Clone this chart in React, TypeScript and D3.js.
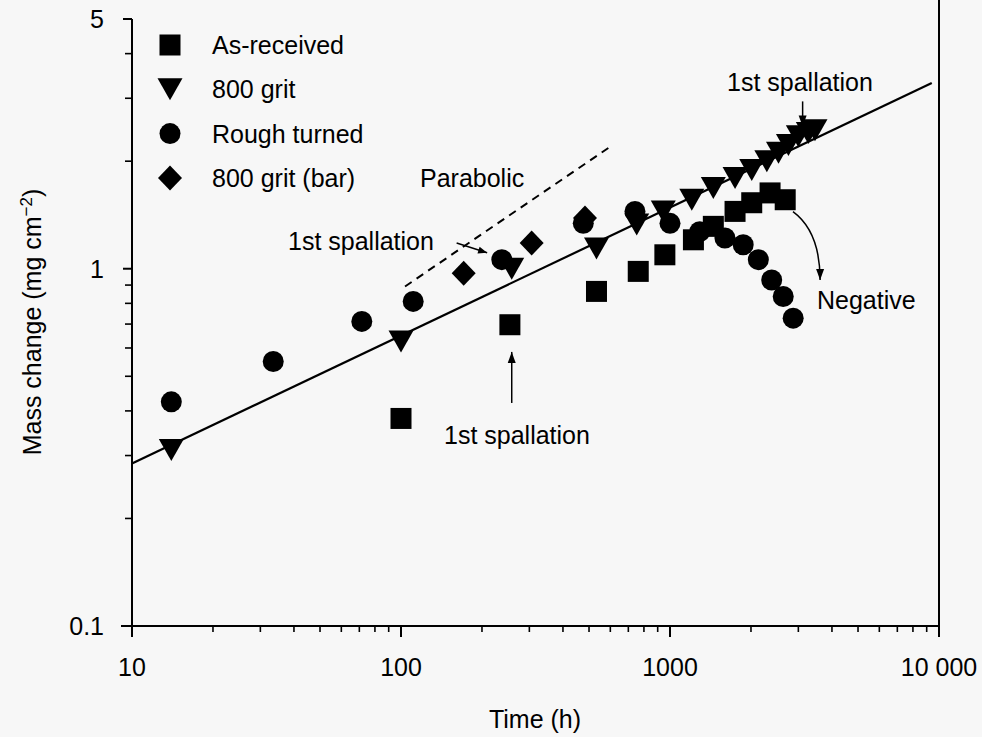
import React from "react";
import * as d3 from "d3";

// ---- Data (time in h, mass change in mg cm^-2) ----
const asReceivedT = [100, 254, 533, 762, 957, 1222, 1449, 1745, 2013, 2355, 2681];
const asReceivedV = [0.381, 0.697, 0.864, 0.983, 1.094, 1.205, 1.314, 1.447, 1.53, 1.63, 1.56];

const grit800T = [14, 100, 258, 533, 752, 944, 1205, 1449, 1745, 2013, 2291, 2531, 2756, 3000, 3267, 3459];
const grit800V = [0.311, 0.626, 1.0, 1.14, 1.33, 1.447, 1.56, 1.683, 1.795, 1.89, 2.0, 2.11, 2.22, 2.35, 2.4, 2.44];

const roughT = [14, 33.5, 71.5, 111, 237, 476, 741, 1000, 1290, 1600, 1871, 2130, 2388, 2636, 2870];
const roughV = [0.424, 0.55, 0.712, 0.81, 1.06, 1.34, 1.447, 1.34, 1.27, 1.219, 1.167, 1.06, 0.93, 0.836, 0.727];

const barT = [171, 306, 483];
const barV = [0.972, 1.18, 1.387];

const fitT = [10, 9400];
const fitV = [0.285, 3.31];

const parabolicT = [103.5, 615];
const parabolicV = [0.892, 2.225];

const xMajorTicks = [10, 100, 1000, 10000];
const xMajorLabels = ["10", "100", "1000", "10 000"];
const yMajorTicks = [0.1, 1, 5];
const yMajorLabels = ["0.1", "1", "5"];

const legendLabels = ["As-received", "800 grit", "Rough turned", "800 grit (bar)"];

const FONT = "'Liberation Sans', Arial, Helvetica, sans-serif";
const FS = 25;

export default function App() {
  const W = 982, H = 737;
  const x = d3.scaleLog().domain([10, 10000]).range([132, 939]);
  const y = d3.scaleLog().domain([0.1, 5]).range([626, 19]);

  const zip = (t: number[], v: number[]) => t.map((d, i) => [d, v[i]] as [number, number]);
  const line = d3.line<[number, number]>().x(d => x(d[0])).y(d => y(d[1]));

  const xMinor = x.ticks().filter(t => !xMajorTicks.includes(t));
  const yMinor = y.ticks().filter(t => !yMajorTicks.some(m => Math.abs(m - t) < 1e-9));

  const sq = (cx: number, cy: number, k: string) => <rect key={k} x={cx - 10.5} y={cy - 10.5} width={21} height={21} fill="#000" />;
  const tri = (cx: number, cy: number, k: string) => (
    <path key={k} d={`M${cx - 12.5},${cy - 11}L${cx + 12.5},${cy - 11}L${cx},${cy + 11}Z`} fill="#000" />
  );
  const circ = (cx: number, cy: number, k: string) => <circle key={k} cx={cx} cy={cy} r={10.5} fill="#000" />;
  const dia = (cx: number, cy: number, k: string) => (
    <path key={k} d={`M${cx},${cy - 12.5}L${cx + 12},${cy}L${cx},${cy + 12.5}L${cx - 12},${cy}Z`} fill="#000" />
  );
  const markers = [sq, tri, circ, dia];

  const arrowHead = (x1: number, y1: number, x2: number, y2: number, len = 11, wid = 4) => {
    const a = Math.atan2(y2 - y1, x2 - x1);
    const bx = x2 - len * Math.cos(a), by = y2 - len * Math.sin(a);
    const px = -Math.sin(a) * wid, py = Math.cos(a) * wid;
    return `M${x2},${y2}L${bx + px},${by + py}L${bx - px},${by - py}Z`;
  };

  // annotation anchors in data space
  const a1 = { x1: x(161), y1: y(1.18), x2: x(209), y2: y(1.108) };
  const a2 = { x1: x(258), y1: y(0.421), x2: x(258), y2: y(0.585) };
  const a3 = { x1: x(3112), y1: y(2.94), x2: x(3112), y2: y(2.5) };
  const n0 = [x(2865), y(1.444)], nc = [x(3614), y(1.27)], n1 = [x(3614), y(0.93)];

  return (
    <svg width={W} height={H} style={{ position: "absolute", left: 0, top: 0, background: "#f7f7f7" }} fontFamily={FONT}>
      <rect x={0} y={0} width={W} height={H} fill="#f7f7f7" />
      {/* axes */}
      <line x1={132} y1={19} x2={132} y2={627} stroke="#000" strokeWidth={2} />
      <line x1={939} y1={0} x2={939} y2={627} stroke="#000" strokeWidth={2} />
      <line x1={121} y1={626} x2={940} y2={626} stroke="#000" strokeWidth={2} />
      {xMajorTicks.map((t, i) => (
        <g key={"xm" + t}>
          <line x1={x(t)} x2={x(t)} y1={626} y2={637} stroke="#000" strokeWidth={2} />
          <text x={x(t)} y={676} fontSize={FS} textAnchor="middle">{xMajorLabels[i]}</text>
        </g>
      ))}
      {xMinor.map(t => (
        <line key={"xn" + t} x1={x(t)} x2={x(t)} y1={626} y2={632} stroke="#000" strokeWidth={1.6} />
      ))}
      {yMajorTicks.map((t, i) => (
        <g key={"ym" + t}>
          <line x1={123} x2={132} y1={y(t)} y2={y(t)} stroke="#000" strokeWidth={2} />
          <text x={104} y={y(t) + 9} fontSize={FS} textAnchor="end">{yMajorLabels[i]}</text>
        </g>
      ))}
      {yMinor.map(t => (
        <line key={"yn" + t} x1={125} x2={132} y1={y(t)} y2={y(t)} stroke="#000" strokeWidth={1.6} />
      ))}
      {/* axis titles */}
      <text x={535} y={728} fontSize={FS} textAnchor="middle">Time (h)</text>
      <text transform={`translate(41,322) rotate(-90)`} fontSize={FS} textAnchor="middle">
        Mass change (mg cm<tspan dy={-9} fontSize={17}>−2</tspan><tspan dy={9}>)</tspan>
      </text>

      {/* fit lines */}
      <path d={line(zip(fitT, fitV)) || ""} fill="none" stroke="#000" strokeWidth={2.2} />
      <path d={line(zip(parabolicT, parabolicV)) || ""} fill="none" stroke="#000" strokeWidth={2} strokeDasharray="8,6" />

      {/* data */}
      {zip(asReceivedT, asReceivedV).map((d, i) => sq(x(d[0]), y(d[1]), "s" + i))}
      {zip(roughT, roughV).map((d, i) => circ(x(d[0]), y(d[1]), "c" + i))}
      {zip(barT, barV).map((d, i) => dia(x(d[0]), y(d[1]), "d" + i))}
      {zip(grit800T, grit800V).map((d, i) => tri(x(d[0]), y(d[1]), "t" + i))}

      {/* legend */}
      {legendLabels.map((lab, i) => (
        <g key={"lg" + i}>
          {markers[i](170, 45 + i * 44.3, "lm" + i)}
          <text x={212} y={45 + i * 44.3 + 9} fontSize={FS}>{lab}</text>
        </g>
      ))}
      <text x={420} y={187} fontSize={FS}>Parabolic</text>

      {/* annotations */}
      <text x={288} y={250} fontSize={FS}>1st spallation</text>
      <line x1={a1.x1} y1={a1.y1} x2={a1.x2} y2={a1.y2} stroke="#000" strokeWidth={1.5} />
      <path d={arrowHead(a1.x1, a1.y1, a1.x2, a1.y2, 9, 3.5)} fill="#000" />

      <text x={444} y={444} fontSize={FS}>1st spallation</text>
      <line x1={a2.x1} y1={a2.y1} x2={a2.x2} y2={a2.y2} stroke="#000" strokeWidth={1.5} />
      <path d={arrowHead(a2.x1, a2.y1, a2.x2, a2.y2)} fill="#000" />

      <text x={727} y={91} fontSize={FS}>1st spallation</text>
      <line x1={a3.x1} y1={a3.y1} x2={a3.x2} y2={a3.y2} stroke="#000" strokeWidth={1.5} />
      <path d={arrowHead(a3.x1, a3.y1, a3.x2, a3.y2)} fill="#000" />

      <text x={817} y={309} fontSize={FS}>Negative</text>
      <path d={`M${n0[0]},${n0[1]}Q${nc[0]},${nc[1]} ${n1[0]},${n1[1]}`} fill="none" stroke="#000" strokeWidth={1.5} />
      <path d={arrowHead(nc[0], nc[1] + 10, n1[0], n1[1])} fill="#000" />
    </svg>
  );
}
